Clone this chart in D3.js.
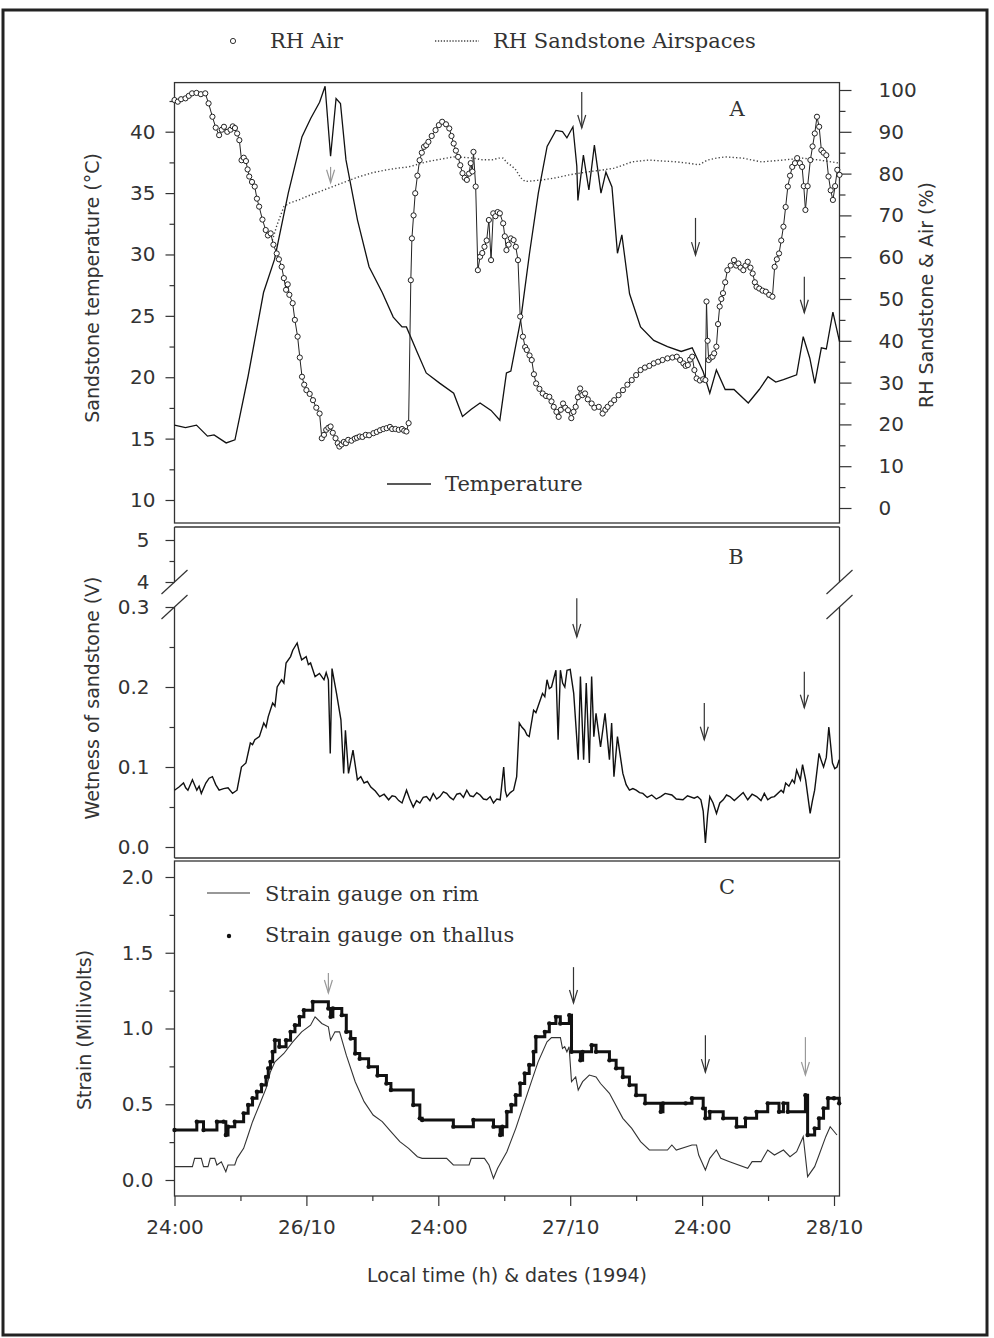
<!DOCTYPE html>
<html>
<head>
<meta charset="utf-8">
<script src="https://cdn.jsdelivr.net/npm/d3@7"></script>
<style>
body { margin: 0; background: #fff; }
text { fill: #333; }
</style>
</head>
<body>
<script>
//Data: [hour since first 24:00, value]
var temperature = [[0,16.1],[1.0,15.9],[2.0,16.1],[3.0,15.2],[3.6,15.3],[4.7,14.65],[5.5,14.9],[6.7,20.1],[8.1,26.9],[9.1,29.6],[10.35,35.0],[11.6,39.6],[12.4,41.1],[13.2,42.4],[13.7,43.7],[14.2,38.0],[14.7,42.7],[15.1,42.3],[15.6,37.7],[16.65,32.8],[17.7,29.0],[18.9,26.9],[19.9,24.9],[20.7,24.1],[21.1,24.1],[22.1,22.0],[22.9,20.35],[24.15,19.5],[25.4,18.7],[26.2,16.8],[27.0,17.4],[27.8,17.9],[28.8,17.3],[29.6,16.5],[30.2,20.35],[30.6,20.5],[31.5,24.7],[32.3,30.1],[33.1,35.0],[33.9,38.8],[34.7,40.1],[35.3,40.0],[35.7,39.5],[36.25,40.4],[36.6,37.2],[36.7,34.4],[37.2,38.1],[37.7,35.25],[38.2,38.9],[38.8,35.0],[39.25,36.7],[39.8,35.5],[40.3,30.1],[40.7,31.6],[41.4,26.8],[42.4,24.1],[43.6,23.0],[44.85,22.5],[46.1,22.1],[47.1,22.4],[48.1,20.45],[48.7,18.7],[49.3,20.6],[50.1,19.0],[50.9,19.0],[52.2,17.9],[53.2,19.0],[54.0,20.05],[54.7,19.6],[55.4,19.8],[56.6,20.2],[57.2,23.3],[57.8,21.55],[58.25,19.5],[58.85,22.4],[59.3,22.3],[59.9,25.3],[60.5,22.9]];

var rhAir = [[0,97.6],[0.3,97.2],[0.6,97.8],[1.0,98.0],[1.3,98.6],[1.6,99.2],[2.0,99.3],[2.4,99.0],[2.8,99.2],[3.1,96.8],[3.45,93.6],[3.75,91.0],[4.06,89.2],[4.3,90.5],[4.5,91.2],[4.8,90.0],[5.1,90.5],[5.3,91.3],[5.5,90.9],[5.7,89.6],[5.9,88.0],[6.1,83.2],[6.3,83.8],[6.5,83.0],[6.65,81.0],[6.8,79.3],[7.05,78.0],[7.3,76.9],[7.5,74.0],[7.7,72.1],[8.0,69.0],[8.3,66.5],[8.5,65.2],[8.75,65.7],[9.0,63.0],[9.3,60.9],[9.5,59.5],[9.75,57.7],[9.95,55.0],[10.15,52.2],[10.3,53.5],[10.45,51.0],[10.75,49.0],[10.95,45.0],[11.2,41.0],[11.4,36.0],[11.6,31.4],[11.8,29.5],[12.0,28.2],[12.3,27.3],[12.6,25.8],[12.9,24.0],[13.2,22.6],[13.4,16.7],[13.6,17.5],[13.8,18.7],[14.0,19.2],[14.2,19.5],[14.4,18.0],[14.65,16.7],[14.85,15.5],[15.0,14.7],[15.2,15.2],[15.4,15.8],[15.6,15.5],[15.8,16.3],[16.1,16.1],[16.4,16.6],[16.6,16.8],[16.85,17.1],[17.1,17.0],[17.4,17.5],[17.7,17.4],[18.1,17.9],[18.4,18.2],[18.7,18.6],[19.0,18.9],[19.3,19.1],[19.6,19.4],[19.8,18.9],[20.1,18.9],[20.4,18.7],[20.7,18.9],[20.9,18.5],[21.1,18.3],[21.3,20.3],[21.5,54.5],[21.6,64.5],[21.75,70.0],[21.9,75.3],[22.1,79.5],[22.3,83.2],[22.5,85.0],[22.7,86.4],[22.9,86.8],[23.1,87.6],[23.4,89.0],[23.75,90.4],[24.05,91.6],[24.35,92.4],[24.7,91.8],[25.0,90.8],[25.2,89.0],[25.4,87.2],[25.6,85.5],[25.8,84.0],[26.0,82.0],[26.2,80.1],[26.4,79.0],[26.6,78.5],[26.8,80.0],[26.95,82.5],[27.1,80.5],[27.2,85.2],[27.4,76.9],[27.6,56.9],[27.8,60.1],[28.0,61.0],[28.2,62.5],[28.4,64.0],[28.6,68.9],[28.8,59.3],[29.0,70.5],[29.2,69.8],[29.4,70.8],[29.6,70.5],[29.9,68.1],[30.05,65.0],[30.2,61.7],[30.4,63.0],[30.6,64.5],[30.85,64.1],[31.05,62.5],[31.25,59.3],[31.45,45.8],[31.7,41.0],[31.9,38.5],[32.05,37.8],[32.3,36.5],[32.5,35.4],[32.7,32.0],[32.9,29.8],[33.2,28.5],[33.5,27.4],[33.8,26.8],[34.1,26.6],[34.3,25.5],[34.5,24.2],[34.75,23.0],[34.95,21.8],[35.15,23.5],[35.35,25.0],[35.55,24.0],[35.8,23.4],[36.1,21.5],[36.3,23.0],[36.5,24.2],[36.7,26.5],[36.9,28.6],[37.1,27.0],[37.35,27.4],[37.6,26.0],[37.95,25.0],[38.2,24.0],[38.6,24.2],[38.95,22.6],[39.2,23.5],[39.4,24.2],[39.7,25.0],[40.0,25.8],[40.4,27.0],[40.8,28.2],[41.2,29.5],[41.6,30.6],[42.0,31.8],[42.4,33.0],[42.8,33.6],[43.2,34.0],[43.6,34.6],[44.0,35.0],[44.4,35.4],[44.85,35.8],[45.3,36.0],[45.7,36.2],[46.0,35.4],[46.3,34.6],[46.5,34.0],[46.7,34.2],[46.9,35.5],[47.1,36.2],[47.3,33.0],[47.5,31.0],[47.8,30.5],[48.1,30.8],[48.3,30.6],[48.4,49.4],[48.5,40.0],[48.6,35.4],[48.8,36.0],[48.95,36.2],[49.1,37.0],[49.3,38.6],[49.45,44.0],[49.6,48.2],[49.75,50.0],[49.9,51.4],[50.1,54.0],[50.3,56.9],[50.6,58.0],[50.9,59.3],[51.1,58.0],[51.3,58.5],[51.5,57.5],[51.75,56.9],[51.95,58.0],[52.15,58.9],[52.4,57.5],[52.6,56.1],[52.8,54.0],[52.95,52.9],[53.2,52.5],[53.5,52.0],[53.8,51.75],[54.1,51.0],[54.4,50.55],[54.6,57.7],[54.8,59.5],[55.0,60.9],[55.2,64.0],[55.4,67.3],[55.6,72.0],[55.8,76.9],[56.0,79.5],[56.2,81.6],[56.45,82.5],[56.65,83.7],[56.9,82.5],[57.1,81.6],[57.25,77.0],[57.4,71.3],[57.6,77.0],[57.85,83.25],[58.05,86.5],[58.25,89.6],[58.45,93.6],[58.65,91.2],[58.85,85.6],[59.05,85.0],[59.3,84.4],[59.5,79.3],[59.7,76.0],[59.9,73.7],[60.1,77.0],[60.3,80.9],[60.5,79.7]];

var rhSandstone = [[8.9,64.0],[9.3,67.5],[9.95,72.1],[10.5,73.0],[11.3,73.7],[12.0,74.5],[12.8,75.3],[13.8,76.3],[14.8,77.3],[15.8,78.3],[16.85,79.3],[18.0,80.2],[19.3,80.9],[20.3,81.3],[21.3,81.6],[22.1,82.2],[22.9,82.8],[24.1,83.4],[25.4,84.0],[26.3,83.9],[27.2,83.7],[28.0,83.3],[28.9,83.3],[29.5,83.7],[29.9,83.7],[30.3,82.5],[30.7,81.8],[31.05,80.9],[31.5,79.0],[31.9,78.1],[32.7,78.3],[33.5,78.5],[34.7,79.0],[35.9,79.7],[37.55,80.4],[38.8,80.8],[40.0,81.3],[40.8,82.0],[41.6,82.8],[43.2,83.25],[44.5,83.0],[45.7,82.8],[46.7,82.5],[47.7,82.1],[48.5,83.25],[49.3,83.7],[50.1,84.0],[51.7,83.7],[53.4,82.8],[55.4,83.25],[57.1,83.7],[58.65,83.25],[60.5,82.5]];

var wetness = [[0,0.071],[0.41,0.075],[0.82,0.08],[1.02,0.074],[1.22,0.071],[1.63,0.084],[2.03,0.071],[2.24,0.076],[2.44,0.067],[2.85,0.08],[3.15,0.086],[3.45,0.088],[3.75,0.078],[4.06,0.071],[4.47,0.073],[4.87,0.074],[5.28,0.067],[5.69,0.071],[6.09,0.1],[6.5,0.105],[6.9,0.13],[7.1,0.128],[7.31,0.134],[7.72,0.138],[8.12,0.155],[8.33,0.15],[8.53,0.163],[8.93,0.18],[9.14,0.176],[9.34,0.2],[9.74,0.209],[9.95,0.205],[10.15,0.23],[10.56,0.238],[10.76,0.246],[11.16,0.255],[11.37,0.243],[11.57,0.234],[11.98,0.238],[12.18,0.228],[12.38,0.23],[12.79,0.213],[13.19,0.217],[13.6,0.209],[13.8,0.218],[14.0,0.209],[14.17,0.117],[14.33,0.223],[14.74,0.192],[15.14,0.159],[15.39,0.092],[15.55,0.146],[15.83,0.092],[16.24,0.121],[16.64,0.084],[16.95,0.088],[17.25,0.08],[17.55,0.082],[17.86,0.075],[18.27,0.07],[18.67,0.063],[19.07,0.066],[19.48,0.059],[19.8,0.064],[20.09,0.063],[20.4,0.058],[20.7,0.055],[21.11,0.071],[21.4,0.06],[21.72,0.05],[22.02,0.058],[22.32,0.055],[22.63,0.062],[22.93,0.063],[23.24,0.058],[23.54,0.067],[23.85,0.06],[24.15,0.063],[24.46,0.069],[24.76,0.067],[25.07,0.062],[25.37,0.059],[25.68,0.066],[25.98,0.067],[26.29,0.062],[26.59,0.071],[26.89,0.064],[27.19,0.063],[27.5,0.068],[27.8,0.065],[28.11,0.06],[28.41,0.059],[28.72,0.063],[29.02,0.055],[29.32,0.06],[29.63,0.059],[29.95,0.1],[30.1,0.07],[30.24,0.063],[30.55,0.068],[30.85,0.071],[31.13,0.088],[31.37,0.155],[31.6,0.15],[31.86,0.146],[32.07,0.14],[32.27,0.138],[32.67,0.171],[32.88,0.168],[33.08,0.176],[33.48,0.192],[33.69,0.188],[33.89,0.209],[34.1,0.198],[34.3,0.2],[34.7,0.221],[34.9,0.134],[35.11,0.221],[35.31,0.205],[35.51,0.2],[35.71,0.221],[36.0,0.222],[36.32,0.192],[36.73,0.109],[36.93,0.213],[37.22,0.109],[37.46,0.205],[37.74,0.105],[37.95,0.213],[38.15,0.138],[38.35,0.167],[38.76,0.125],[39.17,0.167],[39.57,0.109],[39.77,0.155],[39.98,0.088],[40.3,0.138],[40.79,0.092],[41.09,0.078],[41.39,0.071],[41.7,0.073],[42.0,0.071],[42.31,0.068],[42.61,0.067],[43.01,0.062],[43.42,0.065],[43.83,0.06],[44.24,0.063],[44.64,0.067],[45.25,0.065],[45.65,0.06],[46.26,0.059],[46.67,0.064],[47.28,0.061],[47.59,0.063],[47.89,0.059],[48.1,0.045],[48.3,0.005],[48.5,0.04],[48.7,0.063],[49.0,0.055],[49.31,0.042],[49.61,0.055],[49.92,0.059],[50.22,0.065],[50.53,0.063],[50.93,0.058],[51.34,0.063],[51.74,0.068],[52.15,0.059],[52.55,0.066],[52.96,0.063],[53.36,0.058],[53.66,0.067],[53.97,0.059],[54.28,0.062],[54.58,0.063],[55.19,0.071],[55.4,0.068],[55.6,0.08],[55.9,0.076],[56.2,0.084],[56.4,0.08],[56.6,0.096],[56.94,0.084],[57.14,0.103],[57.42,0.084],[57.83,0.042],[58.04,0.058],[58.24,0.071],[58.64,0.117],[58.84,0.108],[59.05,0.1],[59.3,0.112],[59.53,0.15],[59.86,0.105],[60.07,0.098],[60.27,0.1],[60.47,0.109]];

var strainThallus = [[0,0.33],[2.03,0.385],[2.64,0.33],[3.86,0.385],[4.47,0.385],[4.67,0.297],[4.87,0.352],[5.48,0.385],[6.29,0.44],[6.7,0.495],[7.1,0.54],[7.5,0.583],[7.92,0.627],[8.33,0.68],[8.53,0.737],[8.73,0.78],[8.93,0.846],[9.14,0.923],[9.54,0.88],[10.15,0.923],[10.56,0.978],[10.96,1.022],[11.37,1.077],[11.77,1.121],[12.58,1.176],[14.0,1.132],[14.2,1.077],[14.41,1.132],[15.22,1.088],[15.63,0.978],[16.03,0.934],[16.44,0.835],[16.85,0.8],[17.66,0.747],[18.47,0.69],[19.28,0.637],[19.69,0.594],[21.72,0.495],[22.32,0.407],[22.53,0.396],[25.37,0.352],[27.19,0.396],[29.02,0.352],[29.63,0.297],[29.83,0.352],[30.24,0.45],[30.64,0.495],[31.05,0.56],[31.45,0.637],[31.86,0.703],[32.27,0.759],[32.67,0.846],[32.88,0.945],[33.69,0.978],[34.1,1.033],[34.7,1.077],[35.1,1.033],[35.92,1.088],[36.12,0.846],[36.93,0.79],[37.13,0.846],[37.95,0.89],[38.35,0.846],[39.57,0.79],[40.18,0.737],[40.79,0.68],[41.39,0.627],[42.0,0.56],[42.82,0.506],[44.24,0.45],[44.44,0.506],[46.5,0.506],[47.08,0.54],[48.1,0.473],[48.3,0.407],[48.7,0.45],[49.92,0.407],[51.14,0.352],[51.95,0.407],[52.96,0.45],[53.97,0.506],[55.0,0.45],[55.4,0.506],[55.8,0.45],[57.4,0.56],[57.6,0.297],[58.24,0.34],[58.64,0.407],[59.05,0.473],[59.46,0.54],[60.0,0.54],[60.47,0.506]];

var strainRim = [[0,0.088],[1.63,0.088],[1.83,0.143],[2.44,0.143],[2.64,0.088],[3.05,0.088],[3.25,0.143],[3.66,0.143],[3.86,0.099],[4.26,0.12],[4.67,0.055],[4.87,0.099],[5.48,0.099],[5.69,0.143],[6.29,0.209],[6.7,0.297],[7.1,0.385],[7.72,0.495],[8.33,0.605],[8.73,0.715],[9.14,0.78],[9.95,0.835],[10.76,0.912],[11.57,0.978],[12.38,1.022],[12.79,1.077],[13.4,1.033],[14.0,1.011],[14.2,0.923],[14.6,0.978],[15.02,0.978],[15.63,0.824],[16.44,0.649],[17.25,0.517],[18.07,0.429],[18.9,0.385],[19.69,0.319],[20.5,0.253],[21.3,0.209],[22.1,0.154],[22.53,0.143],[24.76,0.143],[25.37,0.099],[26.8,0.099],[27.0,0.143],[28.2,0.143],[28.61,0.099],[29.02,0.011],[29.4,0.077],[30.24,0.187],[31.05,0.341],[31.86,0.517],[32.47,0.649],[33.08,0.78],[33.89,0.912],[34.3,0.94],[35.11,0.94],[35.3,0.868],[35.5,0.88],[35.7,0.846],[35.9,0.88],[36.12,0.649],[36.5,0.68],[36.73,0.594],[37.13,0.649],[37.74,0.693],[38.35,0.68],[38.76,0.637],[39.57,0.572],[40.79,0.407],[41.6,0.341],[42.4,0.253],[43.2,0.198],[44.85,0.198],[45.25,0.231],[45.65,0.198],[47.08,0.231],[47.49,0.231],[47.69,0.165],[48.3,0.066],[48.7,0.143],[49.3,0.198],[49.7,0.143],[50.5,0.121],[52.15,0.077],[52.55,0.121],[53.36,0.121],[53.97,0.198],[54.58,0.165],[55.4,0.198],[56.0,0.154],[56.6,0.187],[57.2,0.286],[57.6,0.022],[58.24,0.088],[58.64,0.165],[59.25,0.286],[59.65,0.352],[60.27,0.297]];

//Event arrows: [hour, top value, bottom value, light?]
var arrowsA = [[14.2,81.6,77.8,true],[37.05,99.5,90.9,false],[47.4,69.4,60.5,false],[57.3,55.3,46.7,false]];
var arrowsB = [[36.6,0.311,0.2625,false],[48.2,0.18,0.134,false],[57.3,0.219,0.174,false]];
var arrowsC = [[14.0,1.366,1.234,true],[36.3,1.405,1.168,false],[48.3,0.956,0.712,false],[57.4,0.943,0.693,true]];

//Tick labels
var xTicks = [0, 12, 24, 36, 48, 60];
var xLabels = ["24:00", "26/10", "24:00", "27/10", "24:00", "28/10"];
var tempTicks = [10, 15, 20, 25, 30, 35, 40];
var rhTicks = [0, 10, 20, 30, 40, 50, 60, 70, 80, 90, 100];
var wetTicksUpper = [4, 5];
var wetTicksLower = [0.0, 0.1, 0.2, 0.3];
var strainTicks = [0, 0.5, 1.0, 1.5, 2.0];

var w = 994, h = 1338;
var tickFont = "DejaVu Sans, sans-serif";
var legendFont = "DejaVu Serif, serif";

var svg = d3.select("body").append("svg")
    .attr("width", w).attr("height", h);

//Outer border
svg.append("rect")
    .attr("x", 3).attr("y", 10).attr("width", 984).attr("height", 1325)
    .attr("fill", "none").attr("stroke", "#222").attr("stroke-width", 3);

//Shared time scale (hours)
var x = d3.scaleLinear().domain([0, 60]).range([174.5, 834]);
var xEnd = x(60.5);

//Scales for each panel
var yT = d3.scaleLinear().domain([10, 40]).range([500, 131.7]);
var yRH = d3.scaleLinear().domain([0, 100]).range([508, 90]);
var yB = d3.scaleLinear().domain([0, 0.3]).range([847, 607]);
var yB2 = d3.scaleLinear().domain([4, 5]).range([582, 540]);
var yC = d3.scaleLinear().domain([0, 2]).range([1180, 877]);

var panelA = {top: yT(44), bottom: 523};
var panelB = {top: 527, bottom: 858};
var panelC = {top: 861, bottom: 1196};

function frame(p) {
    svg.append("rect")
        .attr("x", x(0)).attr("y", p.top)
        .attr("width", xEnd - x(0)).attr("height", p.bottom - p.top)
        .attr("fill", "none").attr("stroke", "#333").attr("stroke-width", 1.3);
}
frame(panelA);
frame(panelC);

//Panel B frame has an axis break on both sides
[[x(0), x(0)], [xEnd, xEnd]].forEach(function(s) {
    svg.append("line").attr("x1", s[0]).attr("x2", s[0])
        .attr("y1", panelB.top).attr("y2", yB2(4))
        .attr("stroke", "#333").attr("stroke-width", 1.3);
    svg.append("line").attr("x1", s[0]).attr("x2", s[0])
        .attr("y1", yB(0.3)).attr("y2", panelB.bottom)
        .attr("stroke", "#333").attr("stroke-width", 1.3);
});
[panelB.top, panelB.bottom].forEach(function(yy) {
    svg.append("line").attr("x1", x(0)).attr("x2", xEnd)
        .attr("y1", yy).attr("y2", yy)
        .attr("stroke", "#333").attr("stroke-width", 1.3);
});
[x(0), xEnd].forEach(function(xx) {
    [yB2(4), yB(0.3)].forEach(function(yy) {
        svg.append("line")
            .attr("x1", xx - 13).attr("y1", yy + 12)
            .attr("x2", xx + 13).attr("y2", yy - 12)
            .attr("stroke", "#333").attr("stroke-width", 1.2);
    });
});

//Axis helper
function styleAxis(g) {
    g.select(".domain").remove();
    g.selectAll("line").attr("stroke", "#333").attr("stroke-width", 1.2);
    g.selectAll("text")
        .attr("font-family", tickFont).attr("font-size", "20px").attr("fill", "#3a3a3a");
}

function minorTicks(scale, values, orient, xpos, size) {
    var ax = (orient === "left" ? d3.axisLeft(scale) : d3.axisRight(scale))
        .tickValues(values).tickSize(size).tickFormat("");
    svg.append("g").attr("transform", "translate(" + xpos + ",0)")
        .call(ax).call(styleAxis);
}

//Panel A axes
svg.append("g").attr("transform", "translate(" + x(0) + ",0)")
    .call(d3.axisLeft(yT).tickValues(tempTicks).tickSize(9).tickPadding(10))
    .call(styleAxis);
minorTicks(yT, d3.range(12.5, 43, 5), "left", x(0), 5);

svg.append("g").attr("transform", "translate(" + xEnd + ",0)")
    .call(d3.axisRight(yRH).tickValues(rhTicks).tickSize(12).tickPadding(27))
    .call(styleAxis)
    .selectAll("text").attr("text-anchor", "start");
minorTicks(yRH, d3.range(5, 100, 10), "right", xEnd, 6);

//Panel B axes
svg.append("g").attr("transform", "translate(" + x(0) + ",0)")
    .call(d3.axisLeft(yB).tickValues(wetTicksLower).tickSize(9).tickPadding(16)
        .tickFormat(d3.format(".1f")))
    .call(styleAxis);
svg.append("g").attr("transform", "translate(" + x(0) + ",0)")
    .call(d3.axisLeft(yB2).tickValues(wetTicksUpper).tickSize(9).tickPadding(16)
        .tickFormat(d3.format("d")))
    .call(styleAxis);
minorTicks(yB, [0.05, 0.15, 0.25], "left", x(0), 5);
minorTicks(yB2, [4.5], "left", x(0), 5);

//Panel C axes
svg.append("g").attr("transform", "translate(" + x(0) + ",0)")
    .call(d3.axisLeft(yC).tickValues(strainTicks).tickSize(9).tickPadding(12)
        .tickFormat(d3.format(".1f")))
    .call(styleAxis);
minorTicks(yC, [0.25, 0.75, 1.25, 1.75], "left", x(0), 5);

svg.append("g").attr("transform", "translate(0," + panelC.bottom + ")")
    .call(d3.axisBottom(x).tickValues(xTicks).tickSize(10).tickPadding(14)
        .tickFormat(function(d, i) { return xLabels[i]; }))
    .call(styleAxis);
svg.append("g").attr("transform", "translate(0," + panelC.bottom + ")")
    .call(d3.axisBottom(x).tickValues([6, 18, 30, 42, 54]).tickSize(5).tickFormat(""))
    .call(styleAxis);

//Axis titles
function vTitle(txt, cx, cy) {
    svg.append("text")
        .attr("transform", "translate(" + cx + "," + cy + ") rotate(-90)")
        .attr("text-anchor", "middle").attr("dominant-baseline", "central")
        .attr("font-family", tickFont).attr("font-size", "19px").attr("fill", "#3a3a3a")
        .text(txt);
}
vTitle("Sandstone temperature (\u00B0C)", 92, 288);
vTitle("RH Sandstone & Air (%)", 926, 295);
vTitle("Wetness of sandstone (V)", 92, 698);
vTitle("Strain (Millivolts)", 84, 1030);

svg.append("text")
    .attr("x", 507).attr("y", 1282)
    .attr("text-anchor", "middle")
    .attr("font-family", tickFont).attr("font-size", "19px").attr("fill", "#3a3a3a")
    .text("Local time (h) & dates (1994)");

//Line generators
var lineT = d3.line().x(function(d) { return x(d[0]); }).y(function(d) { return yT(d[1]); });
var lineRH = d3.line().x(function(d) { return x(d[0]); }).y(function(d) { return yRH(d[1]); });
var lineB = d3.line().x(function(d) { return x(d[0]); }).y(function(d) { return yB(d[1]); });
var lineC = d3.line().x(function(d) { return x(d[0]); }).y(function(d) { return yC(d[1]); });
var stepC = d3.line().curve(d3.curveStepAfter)
    .x(function(d) { return x(d[0]); }).y(function(d) { return yC(d[1]); });

//Panel A
svg.append("path").datum(rhSandstone)
    .attr("d", lineRH).attr("fill", "none")
    .attr("stroke", "#444").attr("stroke-width", 1.4).attr("stroke-dasharray", "1.3,2.2");

svg.append("path").datum(temperature)
    .attr("d", lineT).attr("fill", "none")
    .attr("stroke", "#111").attr("stroke-width", 1.3);

svg.append("path").datum(rhAir)
    .attr("d", lineRH).attr("fill", "none")
    .attr("stroke", "#222").attr("stroke-width", 1);

svg.selectAll("circle.rh")
    .data(rhAir).enter().append("circle")
    .attr("class", "rh")
    .attr("cx", function(d) { return x(d[0]); })
    .attr("cy", function(d) { return yRH(d[1]); })
    .attr("r", 2.6)
    .attr("fill", "#fff").attr("stroke", "#222").attr("stroke-width", 1);

//Panel B
svg.append("path").datum(wetness)
    .attr("d", lineB).attr("fill", "none")
    .attr("stroke", "#111").attr("stroke-width", 1.4);

//Panel C
svg.append("path").datum(strainRim)
    .attr("d", lineC).attr("fill", "none")
    .attr("stroke", "#333").attr("stroke-width", 1.1);

svg.append("path").datum(strainThallus)
    .attr("d", stepC).attr("fill", "none")
    .attr("stroke", "#111").attr("stroke-width", 3);

svg.selectAll("circle.th")
    .data(strainThallus).enter().append("circle")
    .attr("class", "th")
    .attr("cx", function(d) { return x(d[0]); })
    .attr("cy", function(d) { return yC(d[1]); })
    .attr("r", 2.2).attr("fill", "#111");

//Arrows
function drawArrows(list, scale) {
    list.forEach(function(a) {
        var ax = x(a[0]), y0 = scale(a[1]), y1 = scale(a[2]);
        var col = a[3] ? "#999" : "#333";
        var g = svg.append("g").attr("stroke", col).attr("stroke-width", 1.2).attr("fill", "none");
        g.append("line").attr("x1", ax).attr("x2", ax).attr("y1", y0).attr("y2", y1);
        g.append("polyline")
            .attr("points", [[ax - 4, y1 - 13], [ax, y1], [ax + 4, y1 - 13]].join(" "));
    });
}
drawArrows(arrowsA, yRH);
drawArrows(arrowsB, yB);
drawArrows(arrowsC, yC);

//Panel letters
[["A", 737, 116], ["B", 736, 564], ["C", 727, 894]].forEach(function(p) {
    svg.append("text").attr("x", p[1]).attr("y", p[2])
        .attr("text-anchor", "middle")
        .attr("font-family", legendFont).attr("font-size", "21px").attr("fill", "#333")
        .text(p[0]);
});

//Legends
function legendText(txt, lx, ly) {
    svg.append("text").attr("x", lx).attr("y", ly)
        .attr("font-family", legendFont).attr("font-size", "21px").attr("fill", "#333")
        .text(txt);
}
svg.append("circle").attr("cx", 233).attr("cy", 41).attr("r", 2.6)
    .attr("fill", "#fff").attr("stroke", "#333").attr("stroke-width", 1);
legendText("RH Air", 270, 48);
svg.append("line").attr("x1", 435).attr("x2", 479).attr("y1", 41).attr("y2", 41)
    .attr("stroke", "#444").attr("stroke-width", 1.3).attr("stroke-dasharray", "1.3,1.6");
legendText("RH Sandstone Airspaces", 493, 48);

svg.append("line").attr("x1", 387).attr("x2", 431).attr("y1", 484).attr("y2", 484)
    .attr("stroke", "#222").attr("stroke-width", 1.3);
legendText("Temperature", 445, 491);

svg.append("line").attr("x1", 207).attr("x2", 250).attr("y1", 893).attr("y2", 893)
    .attr("stroke", "#333").attr("stroke-width", 1.1);
legendText("Strain gauge on rim", 265, 901);
svg.append("circle").attr("cx", 229).attr("cy", 936).attr("r", 2.2).attr("fill", "#111");
legendText("Strain gauge on thallus", 265, 942);
</script>
</body>
</html>
